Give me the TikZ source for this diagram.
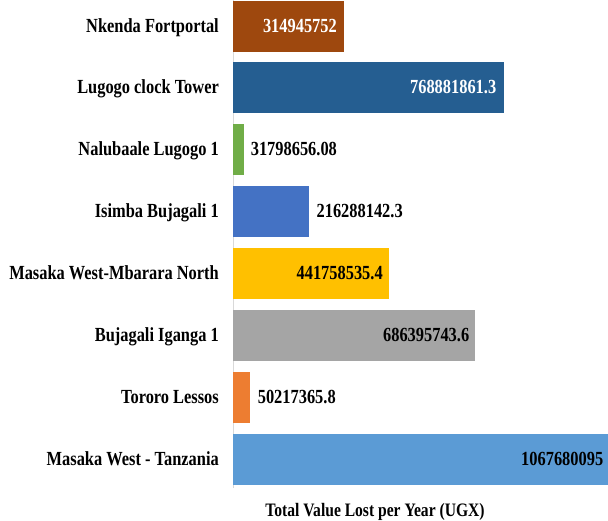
\documentclass[tikz,border=0pt]{standalone}
\usepackage{fontspec}
\setmainfont{Liberation Serif}[FakeStretch=0.82]
\usetikzlibrary{positioning}
\definecolor{cbrown}{HTML}{9E480E}
\definecolor{cdarkblue}{HTML}{255E91}
\definecolor{cgreen}{HTML}{70AD47}
\definecolor{cblue}{HTML}{4472C4}
\definecolor{cgold}{HTML}{FFC000}
\definecolor{cgray}{HTML}{A5A5A5}
\definecolor{corange}{HTML}{ED7D31}
\definecolor{clightblue}{HTML}{5B9BD5}
\definecolor{caxis}{HTML}{D9D9D9}

\begin{document}
\begin{tikzpicture}[x=1pt, y=-1pt,
    bar/.style = {anchor=west, minimum height=51pt, inner sep=0pt},
    catlabel/.style = {inner sep=0pt, text height=12pt, text depth=0pt,
        font=\fontsize{20pt}{22pt}\selectfont\bfseries},
    val/.style = {catlabel},
    axistitle/.style = {inner sep=0pt, anchor=base,
        font=\fontsize{19pt}{21pt}\selectfont\bfseries}]
    \useasboundingbox (0,0) rectangle (608,520);

    % axis
    \coordinate (top) at (233,0);
    \coordinate (bottom) at (233,488);
    \draw[caxis, line width=1pt] (top) -- (bottom);

    % bars
    \node[bar, fill=cbrown, minimum width=110.6pt] (1) at (233,26) {};
    \node[bar, fill=cdarkblue, minimum width=271pt] (2) at (233,87.9) {};
    \node[bar, fill=cgreen, minimum width=11.2pt] (3) at (233,149.8) {};
    \node[bar, fill=cblue, minimum width=76pt] (4) at (233,211.7) {};
    \node[bar, fill=cgold, minimum width=155.5pt] (5) at (233,273.6) {};
    \node[bar, fill=cgray, minimum width=242pt] (6) at (233,335.5) {};
    \node[bar, fill=corange, minimum width=17.2pt] (7) at (233,397.4) {};
    \node[bar, fill=clightblue, minimum width=375pt] (8) at (233,459.8) {};

    % names
    \node[catlabel] (n1) [left=14pt of 1] {Nkenda Fortportal};
    \node[catlabel] (n2) [left=14pt of 2] {Lugogo clock Tower};
    \node[catlabel] (n3) [left=14pt of 3] {Nalubaale Lugogo 1};
    \node[catlabel] (n4) [left=14pt of 4] {Isimba Bujagali 1};
    \node[catlabel] (n5) [left=14pt of 5] {Masaka West-Mbarara North};
    \node[catlabel] (n6) [left=14pt of 6] {Bujagali Iganga 1};
    \node[catlabel] (n7) [left=14pt of 7] {Tororo Lessos};
    \node[catlabel] (n8) [left=14pt of 8] {Masaka West - Tanzania};

    % values
    \node[val, text=white] (v1) [left=7pt of 1.east] {314945752};
    \node[val, text=white] (v2) [left=8pt of 2.east] {768881861.3};
    \node[val] (v3) [right=6pt of 3.east] {31798656.08};
    \node[val] (v4) [right=7pt of 4.east] {216288142.3};
    \node[val] (v5) [left=6pt of 5.east] {441758535.4};
    \node[val] (v6) [left=6pt of 6.east] {686395743.6};
    \node[val] (v7) [right=7pt of 7.east] {50217365.8};
    \node[val] (v8) [left=5pt of 8.east] {1067680095};

    % title
    \node[axistitle] (title) at (375,516) {Total Value Lost per Year (UGX)};
\end{tikzpicture}
\end{document}
